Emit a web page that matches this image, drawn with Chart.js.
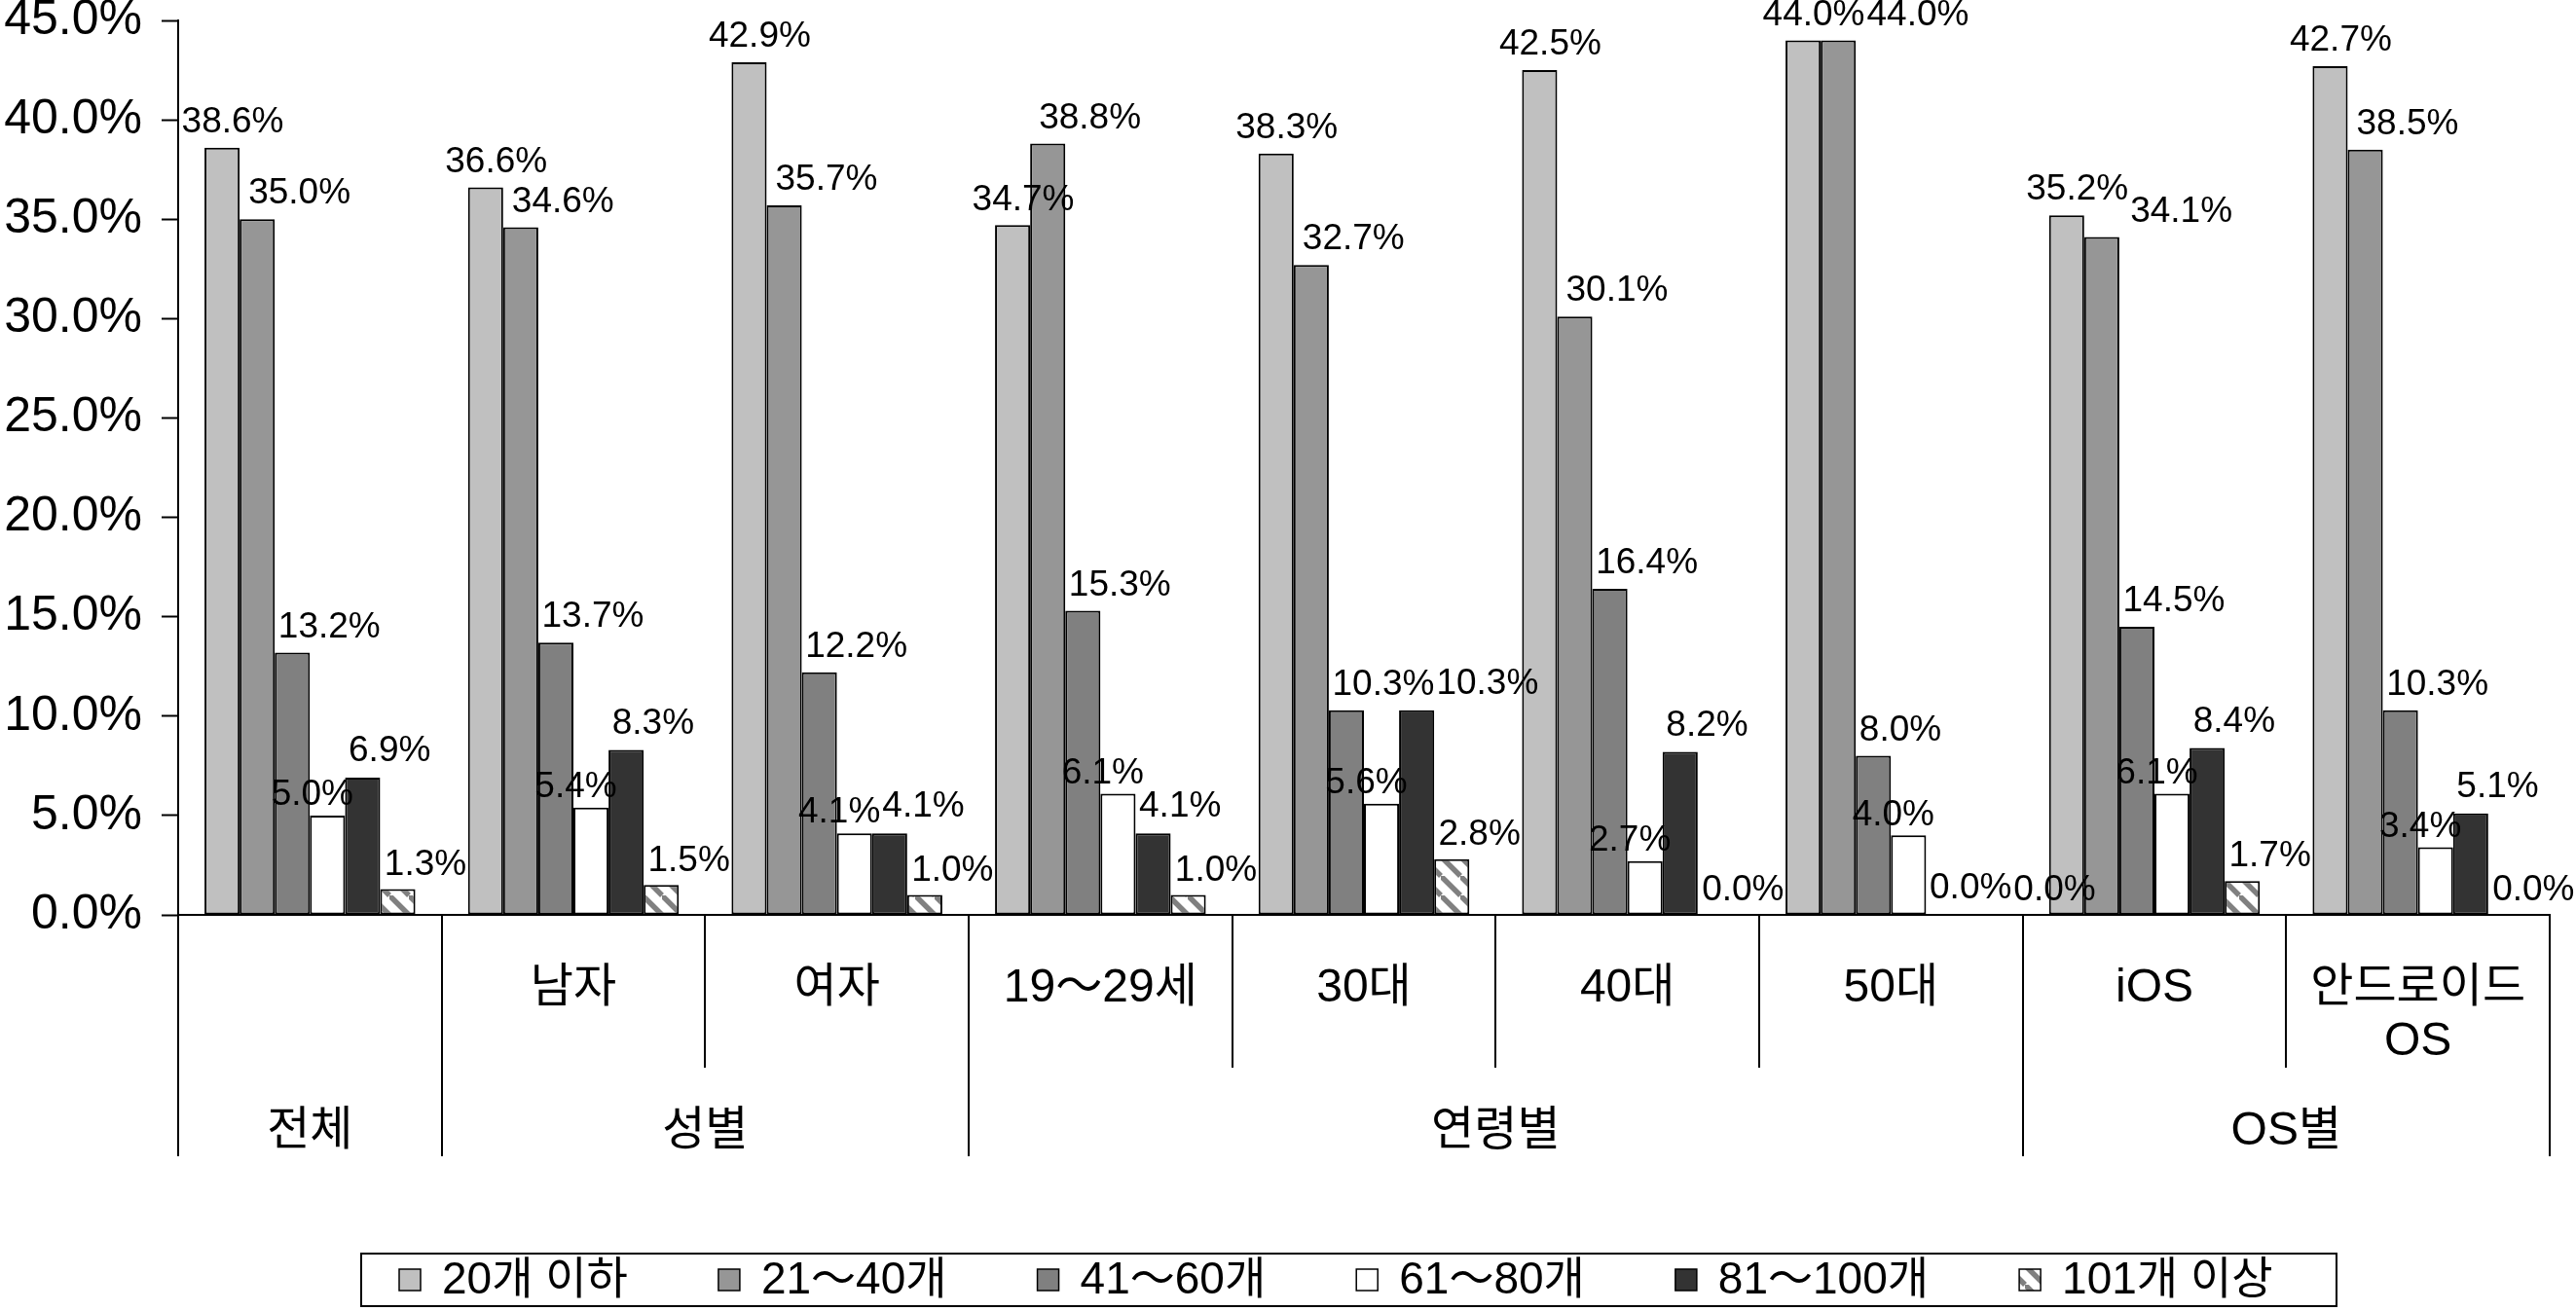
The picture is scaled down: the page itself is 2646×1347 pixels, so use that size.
<!DOCTYPE html>
<html><head><meta charset="utf-8">
<script src="https://cdn.jsdelivr.net/npm/chart.js@4.4.0/dist/chart.umd.min.js"></script>
<style>html,body{margin:0;padding:0;background:#fff;} #wrap{width:2646px;height:1347px;}</style>
</head><body><div id="wrap"><canvas id="c" width="2646" height="1347"></canvas></div>
<script>
// ---------- data ----------
const categories = ['', '남자', '여자', '19～29세', '30대', '40대', '50대', 'iOS', ['안드로이드', 'OS']];
const groupLabels = ['전체', '성별', '연령별', 'OS별'];
const groupSizes = [1, 2, 4, 2];
const seriesNames = ['20개 이하', '21～40개', '41～60개', '61～80개', '81～100개', '101개 이상'];
const s20under = [38.6, 36.6, 42.9, 34.7, 38.3, 42.5, 44.0, 35.2, 42.7];
const s21to40 = [35.0, 34.6, 35.7, 38.8, 32.7, 30.1, 44.0, 34.1, 38.5];
const s41to60 = [13.2, 13.7, 12.2, 15.3, 10.3, 16.4, 8.0, 14.5, 10.3];
const s61to80 = [5.0, 5.4, 4.1, 6.1, 5.6, 2.7, 4.0, 6.1, 3.4];
const s81to100 = [6.9, 8.3, 4.1, 4.1, 10.3, 8.2, 0.0, 8.4, 5.1];
const s101over = [1.3, 1.5, 1.0, 1.0, 2.8, 0.0, 0.0, 1.7, 0.0];
const yMin = 0, yMax = 45, yStep = 5;

// ---------- style ----------
const FONT = "'Liberation Sans', 'Noto Sans CJK KR', sans-serif";
function stripePattern() {
  const t = document.createElement('canvas');
  t.width = 20; t.height = 20;
  const g = t.getContext('2d');
  g.fillStyle = '#ffffff'; g.fillRect(0, 0, 20, 20);
  g.strokeStyle = '#808080'; g.lineWidth = 5.5;
  g.beginPath();
  g.moveTo(-20, 0); g.lineTo(0, 20);
  g.moveTo(-2, -2); g.lineTo(22, 22);
  g.moveTo(0, -20); g.lineTo(20, 0);
  g.stroke();
  return document.getElementById('c').getContext('2d').createPattern(t, 'repeat');
}
const fills = ['#c0c0c0', '#969696', '#808080', '#ffffff', '#333333', stripePattern()];
const seriesValues = [s20under, s21to40, s41to60, s61to80, s81to100, s101over];
const labelShift = [-0.65, 0.25, 0.1, -1.1, 0.1, 0.12];
const labelRise = [26, 26, 26, 21, 27, 25];

const datasets = seriesNames.map((name, i) => ({
  label: name,
  data: seriesValues[i],
  backgroundColor: fills[i],
  borderColor: '#000000',
  borderWidth: 2,
  borderSkipped: false,
  categoryPercentage: 0.8,
  barPercentage: 1.0
}));

const extras = {
  id: 'extras',
  afterDatasetsDraw(chart) {
    const ctx = chart.ctx;
    ctx.save();
    ctx.font = '37px ' + FONT;
    ctx.fillStyle = '#000';
    ctx.textAlign = 'left';
    ctx.textBaseline = 'middle';
    const n = chart.data.labels.length;
    const h = 28;
    for (let j = 0; j < n; j++) {
      const placed = [];
      chart.data.datasets.forEach((ds, di) => {
        const bar = chart.getDatasetMeta(di).data[j];
        const w = bar.width;
        const txt = ds.data[j].toFixed(1) + '%';
        const tw = ctx.measureText(txt).width;
        let x = bar.x - w / 2 + labelShift[di] * w;
        const y = bar.y - labelRise[di];
        placed.forEach(p => {
          if (x < p.x1 && x + tw > p.x0 && Math.abs(y - p.y) < h) x = p.x1 + 2;
        });
        placed.push({ x0: x, x1: x + tw, y });
        ctx.fillText(txt, x, y);
      });
    }
    ctx.restore();
  },
  afterDraw(chart) {
    const ctx = chart.ctx;
    const area = chart.chartArea;
    const n = chart.data.labels.length;
    const cw = (area.right - area.left) / n;
    const innerBottom = 1097, outerBottom = 1188;
    ctx.save();
    ctx.strokeStyle = '#000';
    ctx.lineWidth = 2;
    const outer = new Set([0]);
    let acc = 0;
    groupSizes.forEach(s => { acc += s; outer.add(acc); });
    for (let b = 0; b <= n; b++) {
      const x = Math.round(area.left + b * cw);
      ctx.beginPath();
      ctx.moveTo(x, area.bottom);
      ctx.lineTo(x, outer.has(b) ? outerBottom : innerBottom);
      ctx.stroke();
    }
    // group labels
    ctx.font = '48px ' + FONT;
    ctx.fillStyle = '#000';
    ctx.textAlign = 'center';
    ctx.textBaseline = 'middle';
    let start = 0;
    groupLabels.forEach((g, i) => {
      const cx = area.left + (start + groupSizes[i] / 2) * cw;
      ctx.fillText(g, cx, 1163);
      start += groupSizes[i];
    });
    // legend
    const bx0 = 371, bx1 = 2400, by0 = 1288, by1 = 1342;
    ctx.lineWidth = 2;
    ctx.strokeRect(bx0, by0, bx1 - bx0, by1 - by0);
    ctx.font = '46px ' + FONT;
    ctx.textAlign = 'left';
    const sq = 22, gapIn = 22, gapOut = 93;
    const widths = chart.data.datasets.map(d => sq + gapIn + ctx.measureText(d.label).width);
    let x = bx0 + 39;
    const cy = (by0 + by1) / 2;
    chart.data.datasets.forEach((d, i) => {
      ctx.fillStyle = d.backgroundColor;
      ctx.fillRect(x, cy - sq / 2, sq, sq);
      ctx.lineWidth = 1.5;
      ctx.strokeStyle = '#000';
      ctx.strokeRect(x, cy - sq / 2, sq, sq);
      ctx.fillStyle = '#000';
      ctx.fillText(d.label, x + sq + gapIn, cy + 1);
      x += widths[i] + gapOut;
    });
    ctx.restore();
  }
};

new Chart(document.getElementById('c'), {
  type: 'bar',
  data: { labels: categories, datasets },
  options: {
    responsive: false,
    animation: false,
    layout: { padding: { top: 21, right: 27, left: 0, bottom: 0 } },
    plugins: { legend: { display: false }, tooltip: { enabled: false } },
    scales: {
      x: {
        grid: { display: true, drawOnChartArea: false, drawTicks: false },
        border: { display: true, color: '#000', width: 2 },
        ticks: { font: { family: FONT, size: 48, lineHeight: 1.13 }, color: '#000', padding: 49, maxRotation: 0, autoSkip: false },
        afterFit(scale) { scale.height = 407; scale.paddingLeft = 0; scale.paddingRight = 0; }
      },
      y: {
        min: yMin, max: yMax,
        ticks: { stepSize: yStep, font: { family: FONT, size: 50, lineHeight: 0.8 }, color: '#000', padding: 20,
                 callback: v => Number(v).toFixed(1) + '%' },
        grid: { drawOnChartArea: false, drawTicks: true, tickLength: 17, tickColor: '#000', tickWidth: 2 },
        border: { display: true, color: '#000', width: 2 },
        afterFit(scale) { scale.width = 183; scale.paddingTop = 0; scale.paddingBottom = 0; }
      }
    }
  },
  plugins: [extras]
});
</script></body></html>
